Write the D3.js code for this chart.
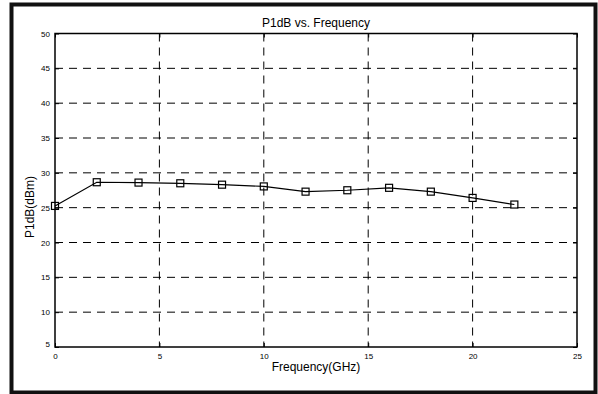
<!DOCTYPE html>
<html>
<head>
<meta charset="utf-8">
<script src="https://cdn.jsdelivr.net/npm/d3@7/dist/d3.min.js"></script>
<style>
  body { margin: 0; background: #fff; }
  svg { display: block; font-family: "Liberation Sans", Arial, sans-serif; }
</style>
</head>
<body>
<svg id="chart" width="598" height="394"></svg>
<script>
const freqs = [0, 2, 4, 6, 8, 10, 12, 14, 16, 18, 20, 22];
const p1db = [25.25, 28.65, 28.6, 28.5, 28.3, 28.05, 27.3, 27.5, 27.85, 27.3, 26.4, 25.45];
const xTicks = [0, 5, 10, 15, 20, 25];
const yTicks = [5, 10, 15, 20, 25, 30, 35, 40, 45, 50];

function translate(x, y) {
    return `translate(${x}, ${y})`;
}

const svg = d3.select('#chart');
const margin = { top: 33.5, left: 55, right: 21, bottom: 47 };
const width = 598 - margin.left - margin.right,
    height = 394 - margin.top - margin.bottom;

// outer frame
svg.append('rect')
    .attr('x', 11.5).attr('y', 4.5)
    .attr('width', 584).attr('height', 388)
    .style('fill', 'none').style('stroke', '#111').style('stroke-width', 4);

const x = d3.scaleLinear().domain([0, 25]).range([0, width]);
const y = d3.scaleLinear().domain([5, 50]).range([height, 0]);

const view = svg.append('g').attr('transform', translate(margin.left, margin.top));

// grid
view.append('g').selectAll('line').data(yTicks.slice(1, -1)).enter().append('line')
    .attr('x1', 0).attr('x2', width)
    .attr('y1', d => y(d)).attr('y2', d => y(d))
    .style('stroke', '#000').style('stroke-width', 1).style('stroke-dasharray', '8,6');
view.append('g').selectAll('line').data(xTicks.slice(1, -1)).enter().append('line')
    .attr('y1', 0).attr('y2', height)
    .attr('x1', d => x(d)).attr('x2', d => x(d))
    .style('stroke', '#000').style('stroke-width', 1).style('stroke-dasharray', '8,6');

// axes (ticks pointing inward)
view.append('g').attr('transform', translate(0, height))
    .call(d3.axisBottom(x).tickValues(xTicks).tickSize(-4).tickPadding(6))
    .call(g => g.select('.domain').remove())
    .selectAll('text').style('font-size', '8px').style('font-family', 'Liberation Sans, Arial, sans-serif');
view.append('g')
    .call(d3.axisLeft(y).tickValues(yTicks).tickSize(-4).tickPadding(5))
    .call(g => g.select('.domain').remove())
    .selectAll('text').style('font-size', '8px').style('font-family', 'Liberation Sans, Arial, sans-serif')
    .attr('dy', d => d === 5 ? '-0.1em' : '0.32em');
view.append('g').call(d3.axisTop(x).tickValues(xTicks).tickSize(-4).tickFormat(() => ''))
    .call(g => g.select('.domain').remove());
view.append('g').attr('transform', translate(width, 0))
    .call(d3.axisRight(y).tickValues(yTicks).tickSize(-4).tickFormat(() => ''))
    .call(g => g.select('.domain').remove());

view.append('rect').attr('width', width).attr('height', height)
    .style('fill', 'none').style('stroke', '#000').style('stroke-width', 1.5);

// series
const line = d3.line().x((d, i) => x(freqs[i])).y(d => y(d));
view.append('path').datum(p1db).attr('d', line)
    .style('fill', 'none').style('stroke', '#000').style('stroke-width', 1.2);
view.append('g').selectAll('rect').data(p1db).enter().append('rect')
    .attr('x', (d, i) => x(freqs[i]) - 3.5).attr('y', d => y(d) - 3.5)
    .attr('width', 7).attr('height', 7)
    .style('fill', 'none').style('stroke', '#000').style('stroke-width', 1.2);

// titles
svg.append('text').attr('transform', translate(margin.left + width / 2, 27))
    .style('text-anchor', 'middle').style('font-size', '12px')
    .text('P1dB vs. Frequency');
svg.append('text').attr('transform', translate(margin.left + width / 2, 371))
    .style('text-anchor', 'middle').style('font-size', '12px')
    .text('Frequency(GHz)');
svg.append('text').attr('transform', translate(34, 207) + ' rotate(-90)')
    .style('text-anchor', 'middle').style('font-size', '12px')
    .text('P1dB(dBm)');
</script>
</body>
</html>
